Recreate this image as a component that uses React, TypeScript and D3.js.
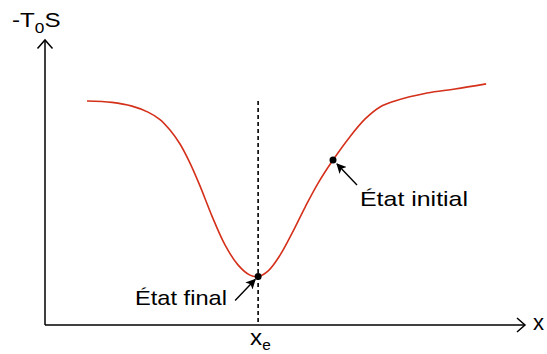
import React from "react";
import * as d3 from "d3";

// Entropy-like potential curve: abscissa and ordinate in arbitrary units (0–100)
const curveX = [8.75, 13.96, 18.13, 21.46, 23.96, 26.04, 28.13, 30.21, 32.29, 34.79, 37.5, 40.2, 42.7, 44.4, 46.5, 49.0, 51.5, 54.2, 56.9, 60.0, 63.5, 66.7, 69.8, 72.9, 79.6, 85.4, 91.9];
const curveY = [78.6, 78.1, 76.8, 74.7, 72.1, 68.4, 63.5, 56.8, 48.8, 38.2, 28.1, 21.1, 17.5, 17.0, 19.0, 24.6, 32.3, 41.4, 49.8, 57.9, 66.0, 72.3, 76.5, 78.6, 81.4, 82.8, 84.6];

// Marked states on the curve
const stateLabels = ["État final", "État initial"];
const stateX = [44.4, 60.0];
const stateY = [17.0, 57.9];

// Equilibrium abscissa and the top of its guide line
const xEq = 44.4;
const guideTop = 78.6;

const W = 547;
const H = 354;
const FONT = "'Liberation Sans', Arial, sans-serif";

export default function App() {
  const x = d3.scaleLinear().domain([0, 100]).range([45, 525]);
  const y = d3.scaleLinear().domain([0, 100]).range([325, 40]);

  const pts: [number, number][] = curveX.map((v, i) => [v, curveY[i]]);
  const line = d3
    .line<[number, number]>()
    .x((d) => x(d[0]))
    .y((d) => y(d[1]))
    .curve(d3.curveCatmullRom.alpha(0.5));

  const x0 = x(0);
  const y0 = y(0);
  const xEnd = x(100);
  const yEnd = y(100);

  const finalP = [x(stateX[0]), y(stateY[0])];
  const initP = [x(stateX[1]), y(stateY[1])];

  return (
    <svg
      width={W}
      height={H}
      style={{ position: "absolute", left: 0, top: 0, background: "#fff" }}
      fontFamily={FONT}
    >
      <defs>
        <marker
          id="head"
          viewBox="0 0 10 10"
          refX="9"
          refY="5"
          markerWidth="10"
          markerHeight="10"
          markerUnits="userSpaceOnUse"
          orient="auto"
        >
          <path d="M0,0 L10,5 L0,10 L2.5,5 Z" fill="#000" />
        </marker>
      </defs>

      {/* axes */}
      <line x1={x0} y1={y0} x2={xEnd} y2={y0} stroke="#000" strokeWidth={1.5} />
      <polyline
        points={`${xEnd - 8},${y0 - 7} ${xEnd},${y0} ${xEnd - 8},${y0 + 7}`}
        fill="none"
        stroke="#000"
        strokeWidth={1.5}
      />
      <line x1={x0} y1={y0} x2={x0} y2={yEnd} stroke="#000" strokeWidth={1.5} />
      <polyline
        points={`${x0 - 7.5},${yEnd + 8.5} ${x0},${yEnd} ${x0 + 7.5},${yEnd + 8.5}`}
        fill="none"
        stroke="#000"
        strokeWidth={1.5}
      />

      {/* equilibrium guide */}
      <line
        x1={x(xEq)}
        y1={y(guideTop)}
        x2={x(xEq)}
        y2={y0}
        stroke="#000"
        strokeWidth={1.6}
        strokeDasharray="4 3"
      />

      {/* curve */}
      <path d={line(pts) ?? ""} fill="none" stroke="#d4301a" strokeWidth={1.6} />

      {/* state markers */}
      {stateX.map((v, i) => (
        <circle key={i} cx={x(v)} cy={y(stateY[i])} r={3.5} fill="#000" />
      ))}

      {/* annotation arrows */}
      <line
        x1={finalP[0] - 23}
        y1={finalP[1] + 24}
        x2={finalP[0] - 3}
        y2={finalP[1] + 3}
        stroke="#000"
        strokeWidth={1.4}
        markerEnd="url(#head)"
      />
      <line
        x1={initP[0] + 24}
        y1={initP[1] + 25}
        x2={initP[0] + 4}
        y2={initP[1] + 4}
        stroke="#000"
        strokeWidth={1.4}
        markerEnd="url(#head)"
      />

      {/* labels */}
      <text
        x={135}
        y={305}
        fontSize={21}
        textLength={92}
        lengthAdjust="spacingAndGlyphs"
        fill="#000"
      >
        {stateLabels[0]}
      </text>
      <text
        x={360}
        y={206}
        fontSize={21}
        textLength={108}
        lengthAdjust="spacingAndGlyphs"
        fill="#000"
      >
        {stateLabels[1]}
      </text>

      <g transform="translate(12,27) scale(1.15,1)">
        <text x={0} y={0} fontSize={21} fill="#000">
          -T
          <tspan fontSize={15} dy={6}>0</tspan>
          <tspan fontSize={21} dy={-6}>S</tspan>
        </text>
      </g>

      <text x={533} y={330} fontSize={22} fill="#000">x</text>

      <g transform={`translate(${x(xEq) - 8},345) scale(1.1,1)`}>
        <text x={0} y={0} fontSize={22} fill="#000">
          x<tspan fontSize={14} dy={5}>e</tspan>
        </text>
      </g>
    </svg>
  );
}
